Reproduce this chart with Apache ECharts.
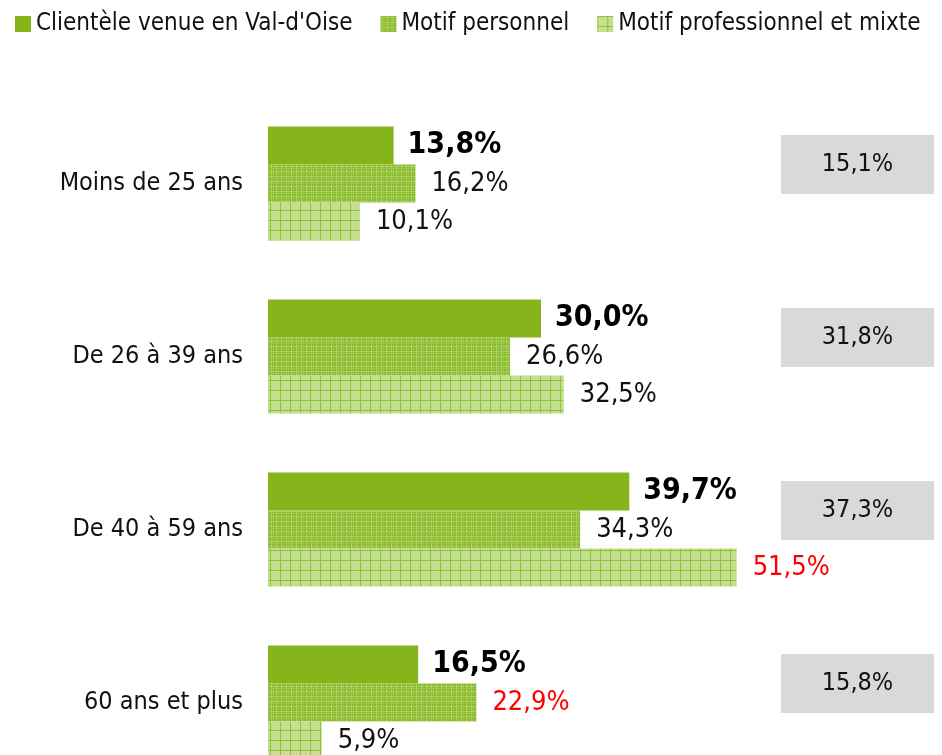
<!DOCTYPE html>
<html>
<head>
<meta charset="utf-8">
<script src="https://cdn.jsdelivr.net/npm/echarts@6/dist/echarts.min.js"></script>
<style>
  html, body { margin: 0; padding: 0; background: #fff; }
  #main { width: 942px; height: 755px; }
</style>
</head>
<body>
<div id="main"></div>
<script>
// categories (age groups) and series values, in %
var categories = ['Moins de 25 ans', 'De 26 à 39 ans', 'De 40 à 59 ans', '60 ans et plus']
var clientele = [13.8, 30.0, 39.7, 16.5]
var personnel = [16.2, 26.6, 34.3, 22.9]
var professionnel = [10.1, 32.5, 51.5, 5.9]
var total = [15.1, 31.8, 37.3, 15.8]
// values drawn in red in the original
var redPersonnel = [false, false, false, true]
var redProfessionnel = [false, false, true, false]

var FONT = '"DejaVu Sans Condensed", "DejaVu Sans", sans-serif'
var GREEN = '#86b51b'

function fmt(v) {
  return v.toFixed(1).replace('.', ',') + '%'
}

// plaid for "Motif personnel"
function patternPersonnel() {
  var c = document.createElement('canvas')
  c.width = 5
  c.height = 5
  var ctx = c.getContext('2d')
  ctx.fillStyle = '#88b820'
  ctx.fillRect(0, 0, 5, 5)
  ctx.fillStyle = '#add270'
  ctx.fillRect(1, 0, 1, 5)
  ctx.fillRect(0, 1, 5, 1)
  ctx.fillStyle = '#9cc84a'
  ctx.fillRect(3, 0, 1, 5)
  ctx.fillRect(0, 3, 5, 1)
  return c
}

// light grid for "Motif professionnel et mixte"
function patternPro() {
  var c = document.createElement('canvas')
  c.width = 10
  c.height = 10
  var ctx = c.getContext('2d')
  ctx.fillStyle = '#cbe49c'
  ctx.fillRect(0, 0, 10, 10)
  ctx.fillStyle = '#bcdb84'
  for (var x = 0; x < 10; x++) {
    for (var y = 0; y < 10; y++) {
      if ((x + y) % 2 === 0) ctx.fillRect(x, y, 1, 1)
    }
  }
  ctx.fillStyle = '#93c23a'
  ctx.fillRect(0, 0, 1, 10)
  ctx.fillRect(0, 0, 10, 1)
  return c
}

function withColors(values, reds) {
  return values.map(function (v, i) {
    if (reds[i]) {
      return { value: v, label: { color: '#ff0000' } }
    }
    return v
  })
}

var chart = echarts.init(document.getElementById('main'), null, { renderer: 'canvas' })

var BOX_LEFT = 781
var BOX_W = 153
var BOX_H = 59
var BOX_DY = -19

var option = {
  animation: false,
  backgroundColor: '#ffffff',
  legend: {
    left: 15,
    top: 12,
    padding: 0,
    itemWidth: 16,
    itemHeight: 16,
    itemGap: 28,
    icon: 'rect',
    data: ['Clientèle venue en Val-d\'Oise', 'Motif personnel', 'Motif professionnel et mixte'],
    textStyle: {
      fontFamily: FONT,
      fontSize: 24,
      color: '#111'
    }
  },
  grid: {
    left: 268,
    top: 97,
    width: 910,
    height: 692,
    outerBoundsMode: 'none'
  },
  xAxis: {
    type: 'value',
    min: 0,
    max: 100,
    show: false
  },
  yAxis: {
    type: 'category',
    inverse: true,
    data: categories,
    axisLine: { show: false },
    axisTick: { show: false },
    axisLabel: {
      margin: 25,
      fontFamily: FONT,
      fontSize: 25,
      color: '#111'
    }
  },
  series: [
    {
      name: 'Clientèle venue en Val-d\'Oise',
      type: 'bar',
      barWidth: 38,
      barGap: '0%',
      itemStyle: { color: GREEN },
      label: {
        show: true,
        position: 'right',
        distance: 14,
        fontFamily: FONT,
        fontSize: 30,
        fontWeight: 'bold',
        color: '#000',
        formatter: function (p) { return fmt(p.value) }
      },
      data: clientele
    },
    {
      name: 'Motif personnel',
      type: 'bar',
      barWidth: 38,
      barGap: '0%',
      itemStyle: { color: { image: patternPersonnel(), repeat: 'repeat' } },
      label: {
        show: true,
        position: 'right',
        distance: 16,
        fontFamily: FONT,
        fontSize: 27,
        color: '#111',
        formatter: function (p) { return fmt(p.value) }
      },
      data: withColors(personnel, redPersonnel)
    },
    {
      name: 'Motif professionnel et mixte',
      type: 'bar',
      barWidth: 38,
      barGap: '0%',
      itemStyle: { color: { image: patternPro(), repeat: 'repeat' } },
      label: {
        show: true,
        position: 'right',
        distance: 16,
        fontFamily: FONT,
        fontSize: 27,
        color: '#111',
        formatter: function (p) { return fmt(p.value) }
      },
      data: withColors(professionnel, redProfessionnel)
    },
    {
      name: 'Total',
      type: 'custom',
      renderItem: function (params, api) {
        var y = api.coord([0, api.value(1)])[1] + BOX_DY
        return {
          type: 'group',
          children: [
            {
              type: 'rect',
              shape: { x: BOX_LEFT, y: y - BOX_H / 2, width: BOX_W, height: BOX_H },
              style: { fill: '#d9d9d9' }
            },
            {
              type: 'text',
              x: BOX_LEFT + BOX_W / 2,
              y: y,
              style: {
                text: fmt(api.value(0)),
                fill: '#111',
                font: '25px ' + FONT,
                align: 'center',
                verticalAlign: 'middle'
              }
            }
          ]
        }
      },
      encode: { x: 0, y: 1 },
      data: total.map(function (v, i) { return [v, i] })
    }
  ]
}

chart.setOption(option)
</script>
</body>
</html>
